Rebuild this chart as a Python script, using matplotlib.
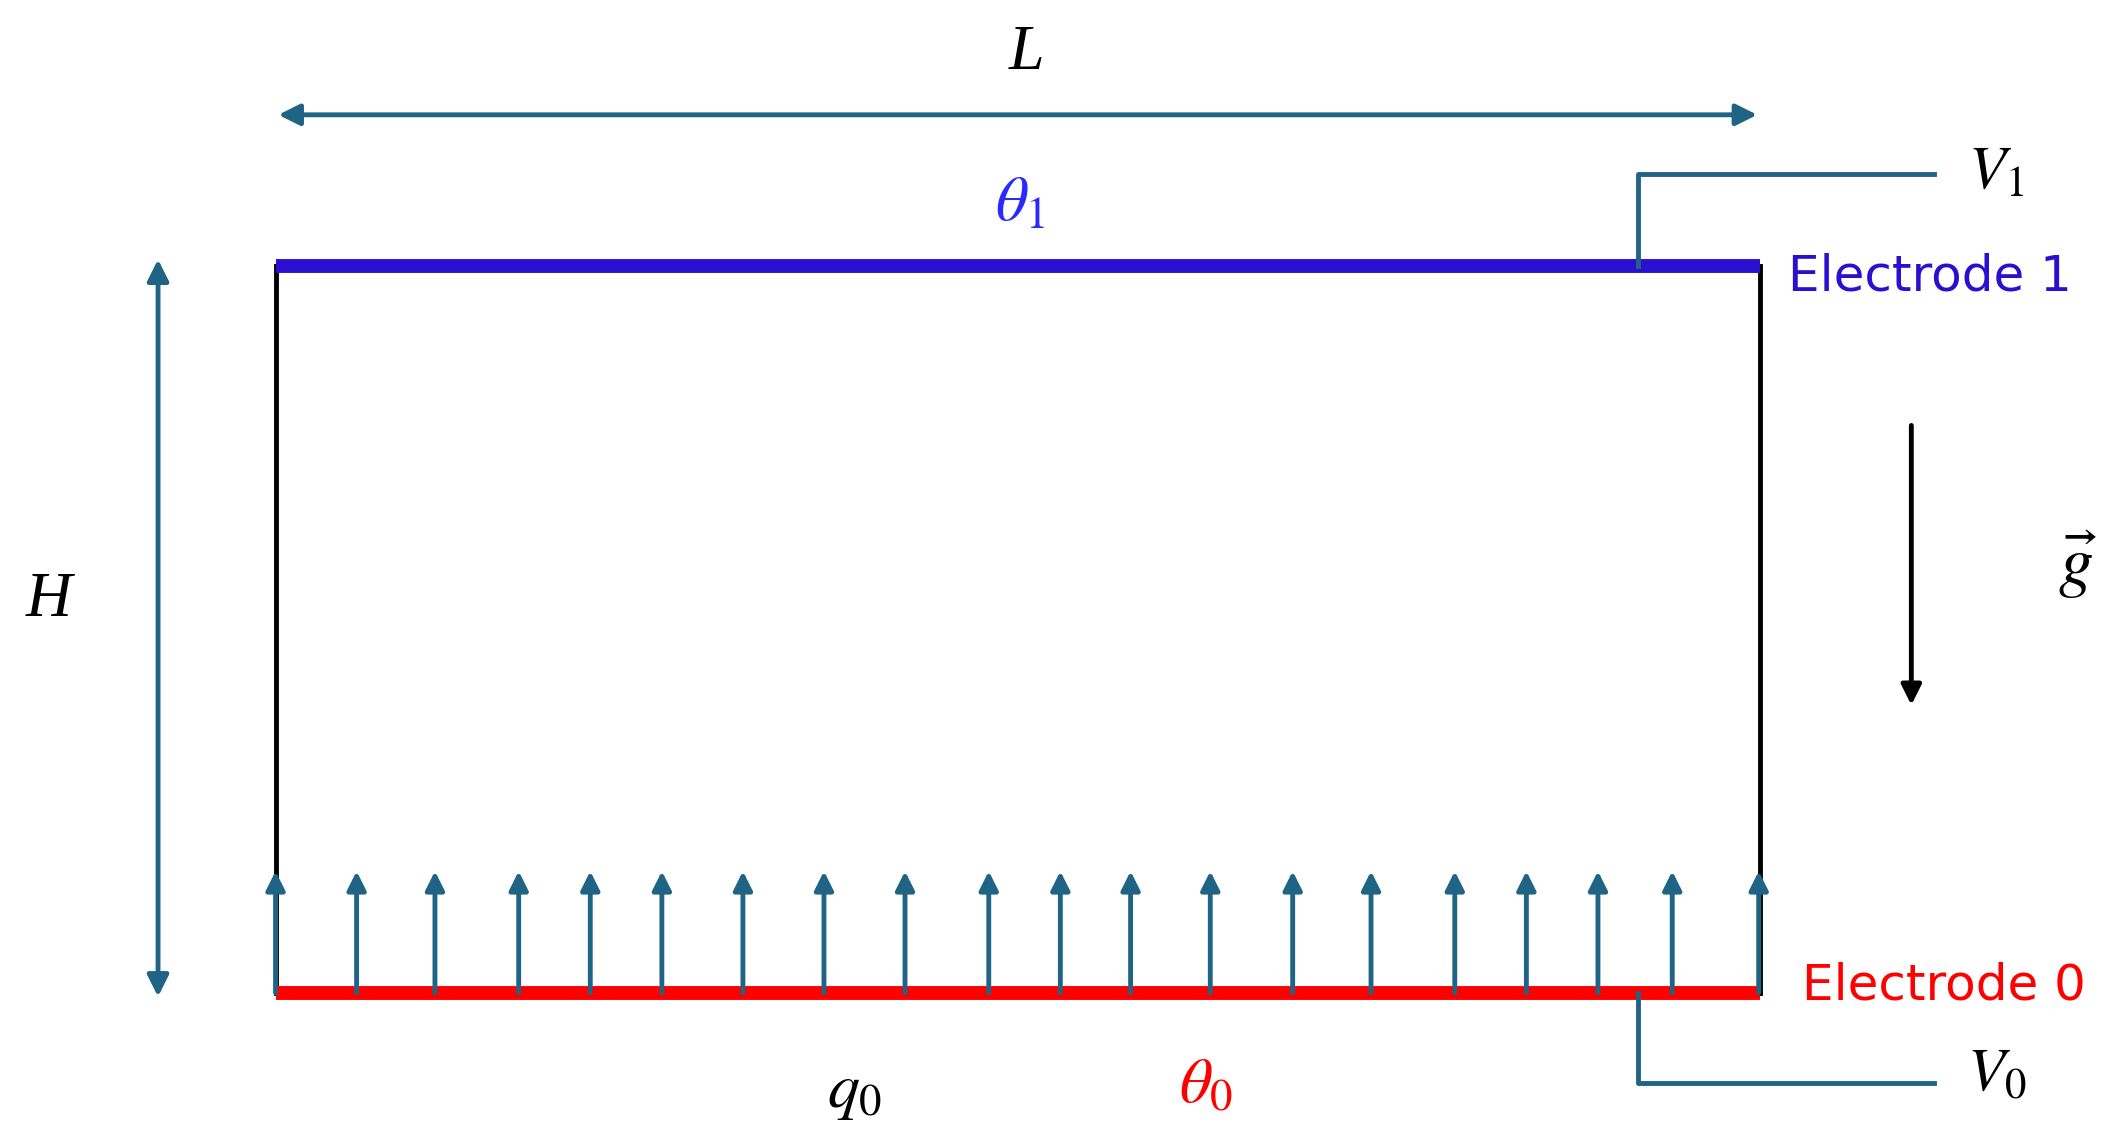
import matplotlib
matplotlib.use("Agg")
import matplotlib.pyplot as plt

# diagram geometry (reference pixel space)
box_x = [204, 1303]
box_y = [197, 735]
arrow_xs = [204, 264, 322, 384, 437, 490, 550, 610, 670, 732, 785, 837, 896, 957,
            1015, 1077, 1130, 1183, 1238, 1302]
arrow_top = 645
teal = "#1f6484"

fig = plt.figure(figsize=(21.18, 11.44), dpi=100)
ax = fig.add_axes([0, 0, 1, 1])
ax.set_xlim(0, 1568)
ax.set_ylim(847, 0)
ax.axis("off")

ax.plot([box_x[0]] * 2, box_y, color="black", lw=3.5)
ax.plot([box_x[1]] * 2, box_y, color="black", lw=3.5)
ax.plot(box_x, [box_y[0]] * 2, color="#2a0fd0", lw=10, solid_capstyle="butt")
ax.plot(box_x, [box_y[1]] * 2, color="#ff0000", lw=10, solid_capstyle="butt")

ax.annotate("", xy=(box_x[0], 85), xytext=(box_x[1], 85),
            arrowprops=dict(arrowstyle="<|-|>", color=teal, lw=3.5, mutation_scale=32))
ax.annotate("", xy=(117, 190), xytext=(117, 740),
            arrowprops=dict(arrowstyle="<|-|>", color=teal, lw=3.5, mutation_scale=32))
for x in arrow_xs:
    ax.annotate("", xy=(x, arrow_top), xytext=(x, box_y[1]),
                arrowprops=dict(arrowstyle="-|>", color=teal, lw=3.5, mutation_scale=28,
                                shrinkA=0, shrinkB=0))
ax.annotate("", xy=(1415, 522), xytext=(1415, 315),
            arrowprops=dict(arrowstyle="-|>", color="black", lw=3.5, mutation_scale=30,
                            shrinkA=0, shrinkB=0))
ax.plot([1213, 1213, 1432], [box_y[0], 129, 129], color=teal, lw=3.5)
ax.plot([1213, 1213, 1432], [box_y[1], 802, 802], color=teal, lw=3.5)

serif = dict(family="Liberation Serif", style="italic")
ax.text(760, 40, "L", fontsize=46, ha="center", va="center", **serif)
ax.text(36, 445, "H", fontsize=46, ha="center", va="center", **serif)
ax.text(755, 150, r"$\theta_{\rm 1}$", fontsize=46, color="#2a2aff", ha="center", va="center",
        math_fontfamily="stix")
ax.text(893, 803, r"$\theta_{\rm 0}$", fontsize=46, color="#ff0000", ha="center", va="center",
        math_fontfamily="stix")
ax.text(633, 808, r"$q_{\rm 0}$", fontsize=46, ha="center", va="center", math_fontfamily="stix")
ax.text(1478, 128, r"$V_{\rm 1}$", fontsize=44, ha="center", va="center", math_fontfamily="stix")
ax.text(1478, 795, r"$V_{\rm 0}$", fontsize=44, ha="center", va="center", math_fontfamily="stix")
ax.text(1538, 418, r"$\vec{g}$", fontsize=50, ha="center", va="center", math_fontfamily="stix")
ax.text(1324, 205, "Electrode 1", fontsize=36, color="#2a0fd0", ha="left", va="center",
        family="DejaVu Sans")
ax.text(1334, 730, "Electrode 0", fontsize=36, color="#ff0000", ha="left", va="center",
        family="DejaVu Sans")

fig.savefig("out.png", dpi=100)
